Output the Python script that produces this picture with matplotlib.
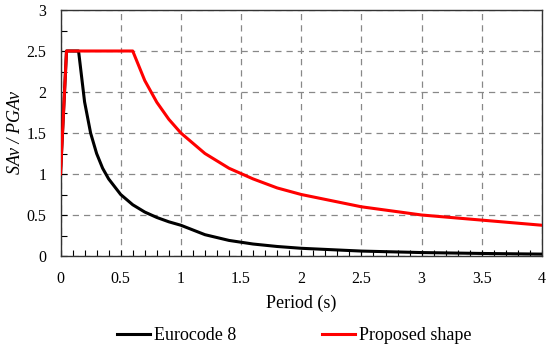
import numpy as np
import matplotlib.pyplot as plt
from matplotlib.ticker import MultipleLocator, FormatStrFormatter

# Eurocode 8 vertical spectrum
ec8_T = [0.0, 0.05, 0.15, 0.2, 0.25, 0.3, 0.35, 0.4, 0.5, 0.6, 0.7, 0.8, 0.9, 1.0,
         1.2, 1.4, 1.6, 1.8, 2.0, 2.5, 3.0, 3.5, 4.0]
ec8_S = [1.0, 2.5, 2.5, 1.88, 1.5, 1.25, 1.07, 0.94, 0.75, 0.625, 0.536, 0.47, 0.417, 0.375,
         0.26, 0.19, 0.146, 0.116, 0.094, 0.06, 0.042, 0.031, 0.023]

# Proposed shape
prop_T = [0.0, 0.05, 0.6, 0.7, 0.8, 0.9, 1.0, 1.2, 1.4, 1.6, 1.8, 2.0, 2.5, 3.0, 4.0]
prop_S = [1.0, 2.5, 2.5, 2.14, 1.875, 1.667, 1.5, 1.25, 1.07, 0.94, 0.83, 0.75, 0.6, 0.5, 0.375]

plt.rcParams['font.family'] = ['Liberation Serif', 'DejaVu Serif']

fig = plt.figure(figsize=(5.5, 3.45), dpi=100)
ax = fig.add_axes([60.5 / 550, 1 - 256 / 345, 481.5 / 550, 246 / 345])

ax.plot(ec8_T, ec8_S, color='black', lw=2.2, label='Eurocode 8', zorder=3)
ax.plot(prop_T, prop_S, color='#ff0000', lw=2.2, label='Proposed shape', zorder=4)

ax.set_xlim(0, 4)
ax.set_ylim(0, 3)
ax.xaxis.set_major_locator(MultipleLocator(0.5))
ax.xaxis.set_minor_locator(MultipleLocator(0.1))
ax.yaxis.set_major_locator(MultipleLocator(0.5))
ax.yaxis.set_minor_locator(MultipleLocator(0.25))
ax.xaxis.set_major_formatter(FormatStrFormatter('%g'))
ax.yaxis.set_major_formatter(FormatStrFormatter('%g'))
ax.tick_params(which='both', direction='in', length=4, width=0.8, labelsize=11.5,
               top=False, right=False)
ax.tick_params(axis='x', pad=11)
ax.tick_params(axis='y', pad=10)
ax.grid(True, which='major', color='#888888', ls=(0, (5, 4)), lw=0.9)
for sp in ax.spines.values():
    sp.set_color('#333333')
    sp.set_linewidth(1.0)

ax.set_xlabel('Period (s)', fontsize=13, labelpad=5)
ax.set_ylabel('SAv / PGAv', fontsize=13, style='italic')
ax.yaxis.set_label_coords(-36.5 / 481.5, 0.5)

fig.legend(loc='center', bbox_to_anchor=(0.535, 1 - 336 / 345), ncol=2, frameon=False,
           fontsize=13, handlelength=1.8, handletextpad=0.2, columnspacing=4.8)

fig.savefig('out.png', dpi=100)
